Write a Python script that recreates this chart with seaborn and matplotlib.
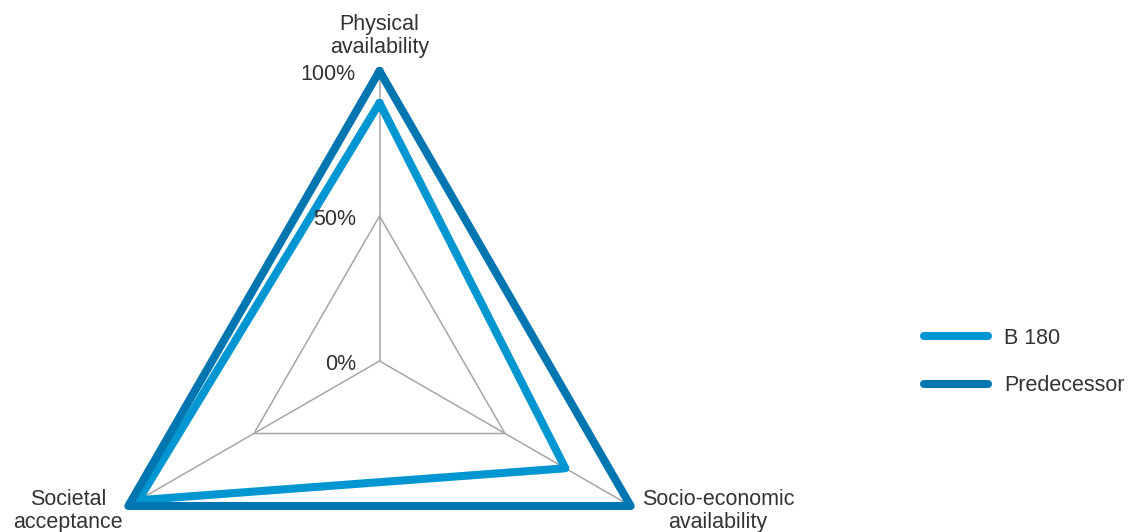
import numpy as np
import pandas as pd
import matplotlib
matplotlib.use("Agg")
import matplotlib.pyplot as plt
import seaborn as sns

# Axes of the radar chart (clockwise from the top)
categories = ["Physical\navailability", "Socio-economic\navailability", "Societal\nacceptance"]
series_names = ["B 180", "Predecessor"]
b180_values = [0.89, 0.74, 0.96]
predecessor_values = [1.00, 1.00, 1.00]
grid_levels = [0.0, 0.5, 1.0]
grid_labels = ["0%", "50%", "100%"]

colors = {"B 180": "#0096d1", "Predecessor": "#0076b1"}
text_color = "#333333"
grid_color = "#a6a6a6"
fs = 15.5

sns.set_theme(style="white")
plt.rcParams["font.family"] = ["Liberation Sans", "DejaVu Sans"]

W, H = 1130, 532
fig = plt.figure(figsize=(W / 100, H / 100), dpi=100)

# polar axes: centre at (379.5, 361) px, radius 290 px
cx, cy, R = 379.5, 361.0, 290.0
ax = fig.add_axes([(cx - R) / W, (H - cy - R) / H, 2 * R / W, 2 * R / H],
                  projection="polar")
ax.set_theta_zero_location("N")
ax.set_theta_direction(-1)
ax.set_ylim(0, 1)
ax.grid(False)
ax.set_xticks([])
ax.set_yticks([])
ax.spines["polar"].set_visible(False)
ax.patch.set_visible(False)

n = len(categories)
theta = np.arange(n) * 2 * np.pi / n
theta_closed = np.append(theta, theta[0])

# polygon grid: spokes and triangles
for t in theta:
    ax.plot([t, t], [0, 1], color=grid_color, lw=1.1, zorder=1, clip_on=False)
for lvl in grid_levels[1:]:
    ax.plot(theta_closed, [lvl] * (n + 1), color=grid_color, lw=1.1, zorder=1,
            clip_on=False)

rows = []
for name, vals in zip(series_names, [b180_values, predecessor_values]):
    closed = list(vals) + [vals[0]]
    for i, (t, v) in enumerate(zip(theta_closed, closed)):
        rows.append({"series": name, "theta": t, "value": v, "order": i})
df = pd.DataFrame(rows)

sns.lineplot(data=df, x="theta", y="value", hue="series", hue_order=series_names,
             palette=colors, sort=False, estimator=None, units="series",
             lw=5.8, legend=False, ax=ax)
data_lines = ax.get_lines()[-2:]
for line in data_lines:
    line.set_clip_on(False)
    line.set_solid_joinstyle("round")
    line.set_solid_capstyle("round")
    line.set_zorder(3)
ax.set_xlabel("")
ax.set_ylabel("")

# radial tick labels
for lvl, lab in zip(grid_levels, grid_labels):
    ax.annotate(lab, xy=(0, lvl), xytext=(-17, -2.5), textcoords="offset points",
                ha="right", va="center", fontsize=fs, color=text_color,
                annotation_clip=False)

# category labels
label_pos = [(379.5, 36), (718, 511), (68, 511)]
for lab, (px, py) in zip(categories, label_pos):
    fig.text(px / W, 1 - py / H, lab, ha="center", va="center", fontsize=fs,
             color=text_color, linespacing=1.15)

leg = fig.legend(data_lines, series_names, loc="center left",
                 bbox_to_anchor=(924 / W, 1 - 362 / H), frameon=False,
                 borderpad=0, borderaxespad=0, handlelength=2.98,
                 handletextpad=0.74, labelspacing=1.25, fontsize=fs)
for t in leg.get_texts():
    t.set_color(text_color)

fig.savefig("out.png", dpi=100)
